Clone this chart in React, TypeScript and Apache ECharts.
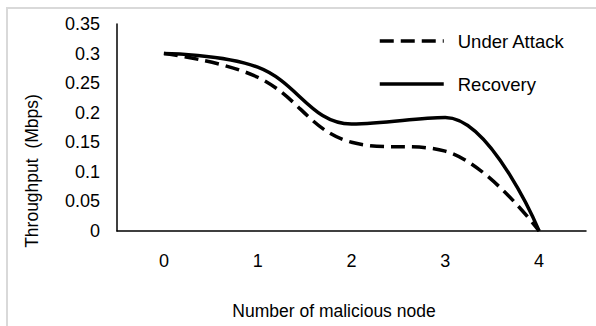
import React, { useEffect, useRef } from "react";
import * as echarts from "echarts";

const categories = ["0", "1", "2", "3", "4"];
const underAttack = [0.3, 0.26, 0.15, 0.135, 0];
const recovery = [0.3, 0.277, 0.181, 0.192, 0];
const seriesNames = ["Under Attack", "Recovery"];
const xAxisTitle = "Number of malicious node";
const yAxisTitle = "Throughput  (Mbps)";

const FONT = "'Liberation Sans', Arial, sans-serif";

export default function App() {
  const ref = useRef<HTMLDivElement>(null);
  useEffect(() => {
    if (!ref.current) return;
    const chart = echarts.init(ref.current, null, { renderer: "svg" });
    chart.setOption({
      animation: false,
      backgroundColor: "#ffffff",
      textStyle: { fontFamily: FONT },
      grid: { left: 117, right: 10, top: 24, bottom: 95 },
      legend: {
        orient: "vertical",
        left: 378,
        top: 29,
        padding: 0,
        itemWidth: 64,
        itemHeight: 14,
        itemGap: 19,
        itemStyle: { opacity: 0 },
        lineStyle: { width: 3.5, color: "#000" },
        textStyle: { fontFamily: FONT, fontSize: 18.5, color: "#000", lineHeight: 24, padding: [0, 0, 0, 9] },
        data: seriesNames,
      },
      xAxis: {
        type: "category",
        data: categories,
        boundaryGap: true,
        axisLine: { lineStyle: { color: "#000", width: 1.5 } },
        axisTick: { show: false },
        axisLabel: { color: "#000", fontSize: 18, fontFamily: FONT, margin: 21 },
        splitLine: { show: false },
      },
      yAxis: {
        type: "value",
        min: 0,
        max: 0.35,
        interval: 0.05,
        axisLine: { show: true, lineStyle: { color: "#000", width: 1.5 } },
        axisTick: { show: false },
        axisLabel: {
          color: "#000",
          fontSize: 18,
          fontFamily: FONT,
          margin: 17,
          formatter: (v: number) => String(+v.toFixed(2)),
        },
        splitLine: { show: false },
      },
      graphic: [
        {
          type: "rect",
          shape: { x: 7, y: 8, width: 700, height: 400 },
          style: { fill: "none", stroke: "#d9d9d9", lineWidth: 2 },
          silent: true,
        },
        {
          type: "text",
          x: 32,
          y: 171,
          rotation: Math.PI / 2,
          style: {
            text: yAxisTitle,
            fontFamily: FONT,
            fontSize: 17.5,
            fill: "#000",
            align: "center",
            verticalAlign: "middle",
          },
        },
        {
          type: "text",
          x: 334,
          y: 311,
          style: {
            text: xAxisTitle,
            fontFamily: FONT,
            fontSize: 17.5,
            fill: "#000",
            align: "center",
            verticalAlign: "middle",
          },
        },
      ],
      series: [
        {
          name: seriesNames[0],
          type: "line",
          data: underAttack,
          smooth: 0.4,
          symbol: "none",
          lineStyle: { color: "#000", width: 3.5, type: [14, 7] },
          itemStyle: { color: "#000" },
        },
        {
          name: seriesNames[1],
          type: "line",
          data: recovery,
          smooth: 0.4,
          symbol: "none",
          lineStyle: { color: "#000", width: 3.5, type: "solid" },
          itemStyle: { color: "#000" },
        },
      ],
    });
    return () => chart.dispose();
  }, []);
  return (
    <div
      ref={ref}
      style={{ position: "absolute", left: 0, top: 0, width: 596, height: 326 }}
    />
  );
}
